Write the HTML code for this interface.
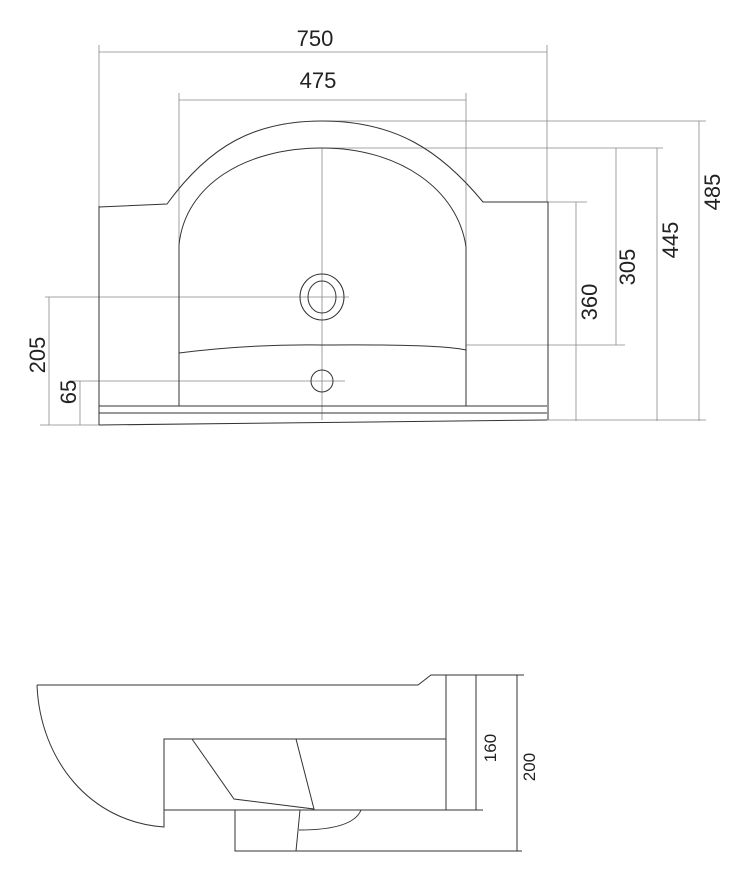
<!DOCTYPE html>
<html><head><meta charset="utf-8"><style>
html,body{margin:0;padding:0;background:#fff;}
svg{display:block;}
text{font-family:"Liberation Sans",sans-serif;fill:#222;}
</style></head><body>
<svg width="750" height="874" viewBox="0 0 750 874" xmlns="http://www.w3.org/2000/svg">
<g fill="none" stroke="#888" stroke-width="0.8">
  <line x1="99" y1="52" x2="547" y2="52"/>
  <line x1="99" y1="45" x2="99" y2="206"/>
  <line x1="547" y1="45" x2="547" y2="202"/>
  <line x1="179" y1="100" x2="466" y2="100"/>
  <line x1="179" y1="93" x2="179" y2="245"/>
  <line x1="466" y1="93" x2="466" y2="247"/>
  <line x1="322" y1="121" x2="706" y2="121"/>
  <line x1="699" y1="121" x2="699" y2="421"/>
  <line x1="322" y1="148" x2="663" y2="148"/>
  <line x1="657" y1="148" x2="657" y2="421"/>
  <line x1="616" y1="148" x2="616" y2="345"/>
  <line x1="466" y1="345" x2="625" y2="345"/>
  <line x1="547" y1="202" x2="587" y2="202"/>
  <line x1="576" y1="202" x2="576" y2="421"/>
  <line x1="547" y1="420" x2="706" y2="420"/>
  <line x1="45" y1="297" x2="349" y2="297"/>
  <line x1="49" y1="297" x2="49" y2="425"/>
  <line x1="69" y1="381" x2="345" y2="381"/>
  <line x1="80" y1="381" x2="80" y2="425"/>
  <line x1="40" y1="425" x2="99" y2="425"/>
  <line x1="322" y1="148" x2="322" y2="420"/>
</g>
<g fill="none" stroke="#333" stroke-width="1">
  <path d="M99,207 L167,204 C210,145 255,121 322,121 C395,121 440,150 483,202 L548,202 L548,420"/>
  <path d="M179,245 C185,185 245,148 322,148 C400,148 458,190 466,247"/>
  <line x1="179" y1="245" x2="179" y2="406"/>
  <line x1="466" y1="247" x2="466" y2="406"/>
  <line x1="99" y1="206" x2="99" y2="425"/>
  <line x1="99" y1="425" x2="547" y2="420"/>
  <line x1="99" y1="406" x2="547" y2="406"/>
  <line x1="99" y1="413" x2="547" y2="413"/>
  <path d="M179,353 Q250,344 322,345 Q440,344 466,350"/>
  <ellipse cx="322" cy="297" rx="22" ry="23"/>
  <ellipse cx="322" cy="297" rx="14" ry="16"/>
  <ellipse cx="322" cy="381" rx="11" ry="11"/>
</g>
<g font-size="22" text-anchor="middle">
  <text x="315" y="46">750</text>
  <text x="318" y="88">475</text>
  <text transform="translate(45,355) rotate(-90)">205</text>
  <text transform="translate(76,392) rotate(-90)">65</text>
  <text transform="translate(597,302) rotate(-90)">360</text>
  <text transform="translate(635,267) rotate(-90)">305</text>
  <text transform="translate(678,240) rotate(-90)">445</text>
  <text transform="translate(720,192) rotate(-90)">485</text>
</g>
<g fill="none" stroke="#333" stroke-width="1">
  <path d="M37,685 L418,685 L431,675 L524,675"/>
  <path d="M37,685 C40,760 90,822 164,827 L164,739 L446,739"/>
  <line x1="446" y1="675" x2="446" y2="810"/>
  <line x1="476" y1="675" x2="476" y2="810"/>
  <line x1="164" y1="810" x2="483" y2="810"/>
  <path d="M192,739 L234,799 L314,809 L296,739"/>
  <path d="M235,810 L235,851 L522,851"/>
  <line x1="300" y1="810" x2="296" y2="851"/>
  <path d="M299,830 C330,830 355,825 361,810"/>
  <line x1="517" y1="675" x2="517" y2="851"/>
</g>
<g font-size="17" text-anchor="middle">
  <text transform="translate(496,748) rotate(-90)">160</text>
  <text transform="translate(535,767) rotate(-90)">200</text>
</g>
</svg>
</body></html>
